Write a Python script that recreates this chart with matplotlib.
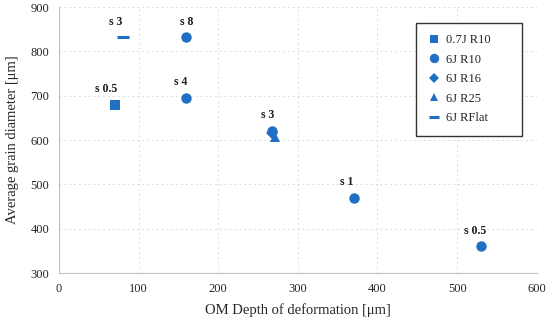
import matplotlib
matplotlib.use("Agg")
import matplotlib.pyplot as plt

plt.rcParams['font.family'] = ['Liberation Serif', 'DejaVu Serif']

color = '#1f6fc4'

series_names = ['0.7J R10', '6J R10', '6J R16', '6J R25', '6J RFlat']
series_x = [[70], [160, 160, 267, 370, 530], [268], [271], [80]]
series_y = [[680], [832, 695, 620, 470, 360], [615], [608], [832]]
markers = ['s', 'o', 'D', '^', '_']
sizes = [7, 7.5, 6, 6.5, 8]

label_texts = ['s 0.5', 's 8', 's 4', 's 3', 's 1', 's 0.5', 's 3']
label_x = [70, 160, 160, 267, 370, 530, 80]
label_y = [680, 832, 695, 620, 470, 360, 832]
label_dx = [-6, 0, -4, -3, -5, -4, -5]

fig = plt.figure(figsize=(5.5, 3.22), dpi=100)
ax = fig.add_axes([0.107, 0.152, 0.869, 0.826])

for name, xs, ys, m, s in zip(series_names, series_x, series_y, markers, sizes):
    kw = dict(markeredgewidth=2.2) if m == '_' else dict(markeredgewidth=0)
    ax.plot(xs, ys, linestyle='none', marker=m, markersize=s, color=color,
            markerfacecolor=color, markeredgecolor=color, label=name, **kw)

for t, x, y, dx in zip(label_texts, label_x, label_y, label_dx):
    ax.annotate(t, (x, y), xytext=(dx, 7), textcoords='offset points',
                ha='center', va='bottom', fontsize=8.5, fontweight='bold',
                color='#1a1a1a')

ax.set_xlim(0, 600)
ax.set_ylim(300, 900)
ax.set_xticks(range(0, 601, 100))
ax.set_yticks(range(300, 901, 100))
ax.grid(True, linestyle=(0, (2, 3)), color='#dcdcdc', linewidth=0.7)
ax.set_axisbelow(True)
for sp in ['top', 'right']:
    ax.spines[sp].set_visible(False)
for sp in ['left', 'bottom']:
    ax.spines[sp].set_color('#bfbfbf')
ax.tick_params(length=0, labelsize=9, colors='#262626', pad=7)
ax.set_xlabel('OM Depth of deformation [μm]', fontsize=10.5, color='#262626', labelpad=6)
ax.set_ylabel('Average grain diameter [μm]', fontsize=10.5, color='#262626', labelpad=8)

leg = ax.legend(loc='upper left', bbox_to_anchor=(0.748, 0.0, 0.22, 0.94),
                mode='expand', fontsize=9,
                frameon=True, fancybox=False, edgecolor='black', handlelength=1,
                handletextpad=0.5, labelspacing=0.6, borderpad=0.9,
                borderaxespad=0, markerscale=0.9)
leg.get_frame().set_linewidth(1.0)
for txt in leg.get_texts():
    txt.set_color('#262626')

fig.savefig('out.png', dpi=100)
